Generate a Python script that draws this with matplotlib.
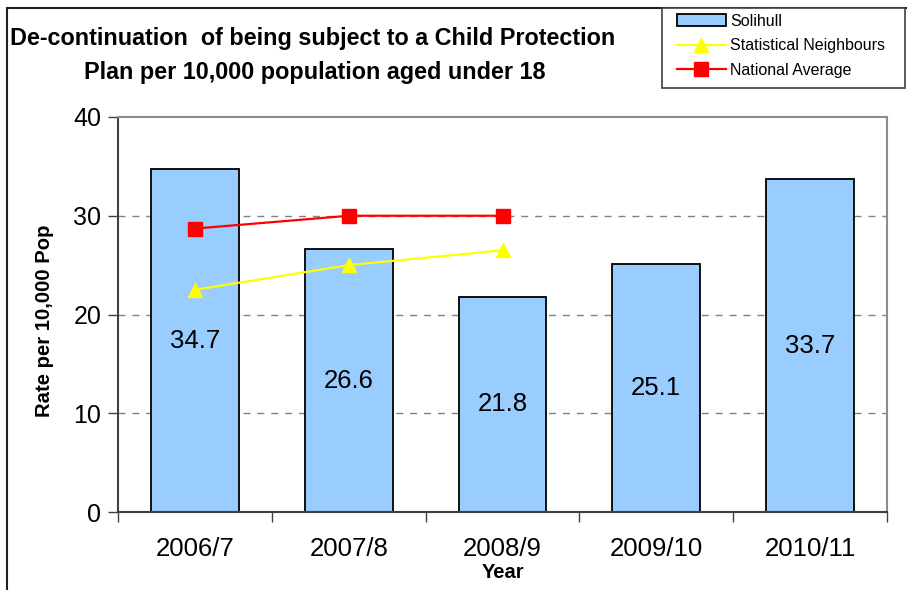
import matplotlib
matplotlib.use("Agg")
import matplotlib.pyplot as plt
from matplotlib.patches import Rectangle
import numpy as np

plt.rcParams["font.family"] = ["Liberation Sans", "DejaVu Sans"]

YEARS = ["2006/7", "2007/8", "2008/9", "2009/10", "2010/11"]
SOLIHULL = [34.7, 26.6, 21.8, 25.1, 33.7]
STAT_NEIGH = [22.5, 25.0, 26.5]
NATIONAL = [28.7, 30.0, 30.0]

BAR = "#99ccff"


def main():
    fig = plt.figure(figsize=(9.07, 5.9), dpi=100)
    ax = fig.add_axes([118 / 907, 1 - 512 / 590, (887 - 118) / 907, (512 - 117) / 590])

    x = np.arange(len(YEARS))
    bars = ax.bar(x, SOLIHULL, width=0.57, color=BAR, edgecolor="black", lw=1.3,
                  label="Solihull", zorder=2)
    ax.plot(x[:len(STAT_NEIGH)], STAT_NEIGH, "-^", color="#ffff00", lw=1.6, ms=10,
            label="Statistical Neighbours", zorder=3)
    ax.plot(x[:len(NATIONAL)], NATIONAL, "-s", color="#ff0000", lw=1.6, ms=10,
            label="National Average", zorder=3)

    for b, v in zip(bars, SOLIHULL):
        ax.text(b.get_x() + b.get_width() / 2, v / 2, f"{v:.1f}", ha="center",
                va="center", fontsize=18.5, zorder=4)

    ax.set_xlim(-0.5, len(YEARS) - 0.5)
    ax.set_ylim(0, 40)
    ax.set_yticks([0, 10, 20, 30, 40])
    ax.set_xticks(x)
    ax.set_xticklabels(YEARS, fontsize=18.5)
    ax.set_xticks(np.arange(len(YEARS) + 1) - 0.5, minor=True)
    ax.tick_params(axis="x", which="major", length=0, pad=18)
    ax.tick_params(axis="x", which="minor", length=7, width=1, color="#404040", direction="out")
    ax.tick_params(axis="y", labelsize=18, length=7, width=1, color="#404040",
                   direction="out", pad=5)
    for y in (10, 20, 30):
        ax.axhline(y, color="#808080", ls=(0, (5, 5)), lw=1, zorder=1)
    for s in ("top", "right"):
        ax.spines[s].set_color("#8c8c8c")
        ax.spines[s].set_linewidth(1.5)
    for s in ("left", "bottom"):
        ax.spines[s].set_color("#404040")
        ax.spines[s].set_linewidth(1.5)

    ax.set_xlabel("Year", fontsize=14.5, fontweight="bold", va="center")
    ax.xaxis.set_label_coords(0.5, -(573 - 512) / 395)
    ax.set_ylabel("Rate per 10,000 Pop", fontsize=14.6, fontweight="bold", va="center")
    ax.yaxis.set_label_coords(-(118 - 44) / 769, (512 - 321) / 395)

    fig.text(313 / 907, 1 - 38 / 590, "De-continuation  of being subject to a Child Protection",
             ha="center", va="center", fontsize=16.8, fontweight="bold")
    fig.text(315 / 907, 1 - 72 / 590, "Plan per 10,000 population aged under 18",
             ha="center", va="center", fontsize=16.8, fontweight="bold")

    # outer chart frame
    fig.patches.append(Rectangle((7 / 907, -0.1), 1.2, 1 - 8 / 590 + 0.1, transform=fig.transFigure,
                                 fill=False, ec="#202020", lw=1.5))

    # legend box, drawn separately so its size matches the reference
    fig.patches.append(Rectangle((662 / 907, 1 - 88 / 590), (905 - 662) / 907, 80 / 590,
                                 transform=fig.transFigure, fc="white", ec="#404040", lw=1.2,
                                 zorder=5))
    h, l = ax.get_legend_handles_labels()
    order = [2, 0, 1]
    leg = fig.legend([h[i] for i in order], [l[i] for i in order],
                     loc="upper left", bbox_to_anchor=(671 / 907, 1 - 8 / 590),
                     fontsize=11.5, frameon=False, borderpad=0.35,
                     labelspacing=0.6, handlelength=3.1, handletextpad=0.25,
                     borderaxespad=0)
    leg.set_zorder(6)

    fig.savefig("out.png", dpi=100)
    plt.close(fig)


if __name__ == "__main__":
    main()
